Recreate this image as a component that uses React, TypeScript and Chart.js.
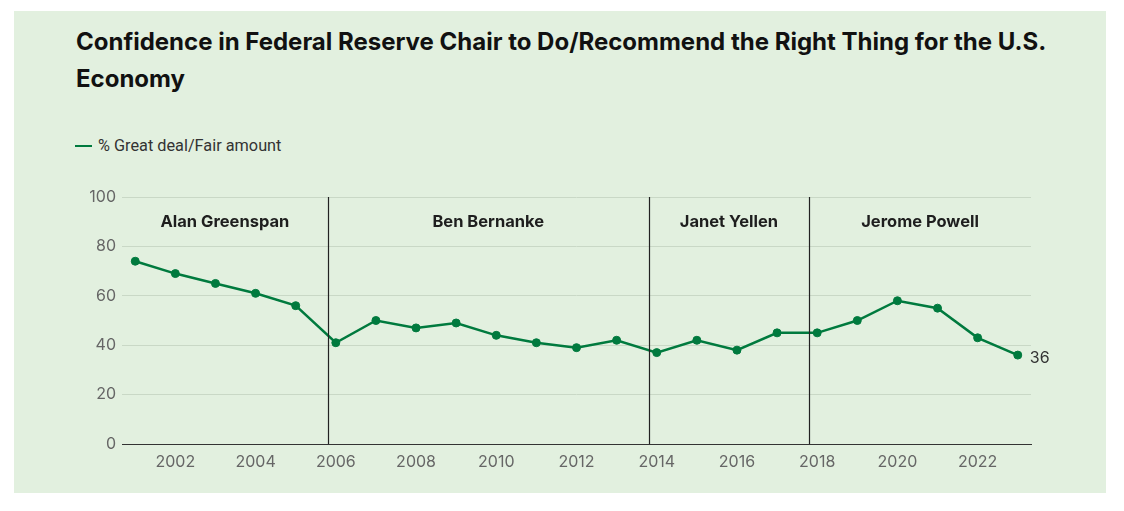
import React, { useEffect, useRef } from "react";
import { Chart, registerables } from "chart.js";

Chart.register(...registerables);

const titleLines = [
  "Confidence in Federal Reserve Chair to Do/Recommend the Right Thing for the U.S.",
  "Economy",
];
const seriesLabel = "% Great deal/Fair amount";
const years = [
  2001, 2002, 2003, 2004, 2005, 2006, 2007, 2008, 2009, 2010, 2011, 2012,
  2013, 2014, 2015, 2016, 2017, 2018, 2019, 2020, 2021, 2022, 2023,
];
const confidence = [
  74, 69, 65, 61, 56, 41, 50, 47, 49, 44, 41, 39, 42, 37, 42, 38, 45, 45, 50,
  58, 55, 43, 36,
];
const xTickYears = [2002, 2004, 2006, 2008, 2010, 2012, 2014, 2016, 2018, 2020, 2022];
const yTickValues = [0, 20, 40, 60, 80, 100];
const chairNames = ["Alan Greenspan", "Ben Bernanke", "Janet Yellen", "Jerome Powell"];
const chairChangeYears = [2005.8, 2013.8, 2017.8];
const xMin = 2000.67;
const xMax = 2023.33;
const chairLabelLevel = 90;

const GREEN = "#007a3e";
const FONT = "Inter, 'Noto Sans', sans-serif";
const FONT2 = "Roboto, 'Noto Sans', sans-serif";

const overlayPlugin = {
  id: "fedOverlay",
  afterDatasetsDraw(chart: any) {
    const { ctx, chartArea, scales } = chart;
    const x = scales.x;
    const y = scales.y;
    ctx.save();
    ctx.strokeStyle = "#222222";
    ctx.lineWidth = 1.2;
    chairChangeYears.forEach((yr) => {
      const px = Math.round(x.getPixelForValue(yr)) + 0.5;
      ctx.beginPath();
      ctx.moveTo(px, y.getPixelForValue(100));
      ctx.lineTo(px, chartArea.bottom);
      ctx.stroke();
    });
    const bounds = [x.min, ...chairChangeYears, x.max];
    ctx.fillStyle = "#1e1e1e";
    ctx.font = `bold 16.5px ${FONT}`;
    ctx.textAlign = "center";
    ctx.textBaseline = "middle";
    chairNames.forEach((name, i) => {
      const mid = (bounds[i] + bounds[i + 1]) / 2;
      ctx.fillText(name, x.getPixelForValue(mid), y.getPixelForValue(chairLabelLevel));
    });
    const lastIdx = years.length - 1;
    const lx = x.getPixelForValue(years[lastIdx]);
    const ly = y.getPixelForValue(confidence[lastIdx]);
    ctx.font = `16px ${FONT}`;
    ctx.fillStyle = "#333333";
    ctx.textAlign = "left";
    ctx.fillText(String(confidence[lastIdx]), lx + 12, ly + 3);
    ctx.restore();
  },
};

export default function App() {
  const canvasRef = useRef<HTMLCanvasElement | null>(null);

  useEffect(() => {
    if (!canvasRef.current) return;
    const chart = new Chart(canvasRef.current, {
      type: "line",
      data: {
        datasets: [
          {
            label: seriesLabel,
            data: years.map((yr, i) => ({ x: yr, y: confidence[i] })),
            borderColor: GREEN,
            backgroundColor: GREEN,
            borderWidth: 2.5,
            pointRadius: 4,
            pointHoverRadius: 4,
            pointBackgroundColor: GREEN,
            pointBorderColor: GREEN,
            pointBorderWidth: 1,
            tension: 0,
          },
        ],
      },
      options: {
        responsive: false,
        animation: false,
        devicePixelRatio: 1,
        layout: { padding: { left: 0, top: 17, right: 59, bottom: 0 } },
        plugins: {
          legend: { display: false },
          title: { display: false },
          tooltip: { enabled: false },
        },
        scales: {
          x: {
            type: "linear",
            min: xMin,
            max: xMax,
            afterBuildTicks: (scale: any) => {
              scale.ticks = xTickYears.map((v) => ({ value: v }));
            },
            afterFit: (scale: any) => {
              scale.height = 36;
            },
            grid: { display: false, drawTicks: false },
            border: { display: true, color: "#333333", width: 1 },
            ticks: {
              padding: 9,
              color: "#666666",
              font: { family: FONT, size: 16 },
              callback: (v: any) => String(v),
              autoSkip: false,
              maxRotation: 0,
            },
          },
          y: {
            min: 0,
            max: 100,
            afterBuildTicks: (scale: any) => {
              scale.ticks = yTickValues.map((v) => ({ value: v }));
            },
            afterFit: (scale: any) => {
              scale.width = 62;
            },
            grid: { color: "#c9d8c6", lineWidth: 1, drawTicks: false },
            border: { display: false },
            ticks: {
              padding: 6,
              color: "#666666",
              font: { family: FONT, size: 16 },
            },
          },
        },
      },
      plugins: [overlayPlugin],
    });
    return () => chart.destroy();
  }, []);

  return (
    <div>
      <div
        style={{
          position: "absolute",
          left: 14,
          top: 11,
          width: 1092,
          height: 482,
          background: "#e2f0df",
        }}
      />
      <div
        style={{
          position: "absolute",
          left: 76,
          top: 23,
          fontFamily: FONT,
          fontWeight: 700,
          fontSize: 24,
          lineHeight: "37px",
          color: "#111111",
          whiteSpace: "nowrap",
        }}
      >
        {titleLines.map((t, i) => (
          <div key={i}>{t}</div>
        ))}
      </div>
      <div
        style={{
          position: "absolute",
          left: 75,
          top: 136,
          display: "flex",
          alignItems: "center",
          fontFamily: FONT2,
          fontSize: 16.3,
          color: "#333333",
          whiteSpace: "nowrap",
        }}
      >
        <span
          style={{
            display: "inline-block",
            width: 17,
            height: 2,
            background: GREEN,
            marginRight: 6,
          }}
        />
        <span>{seriesLabel}</span>
      </div>
      <canvas
        ref={canvasRef}
        width={1030}
        height={300}
        style={{ position: "absolute", left: 60, top: 180, width: 1030, height: 300 }}
      />
    </div>
  );
}
